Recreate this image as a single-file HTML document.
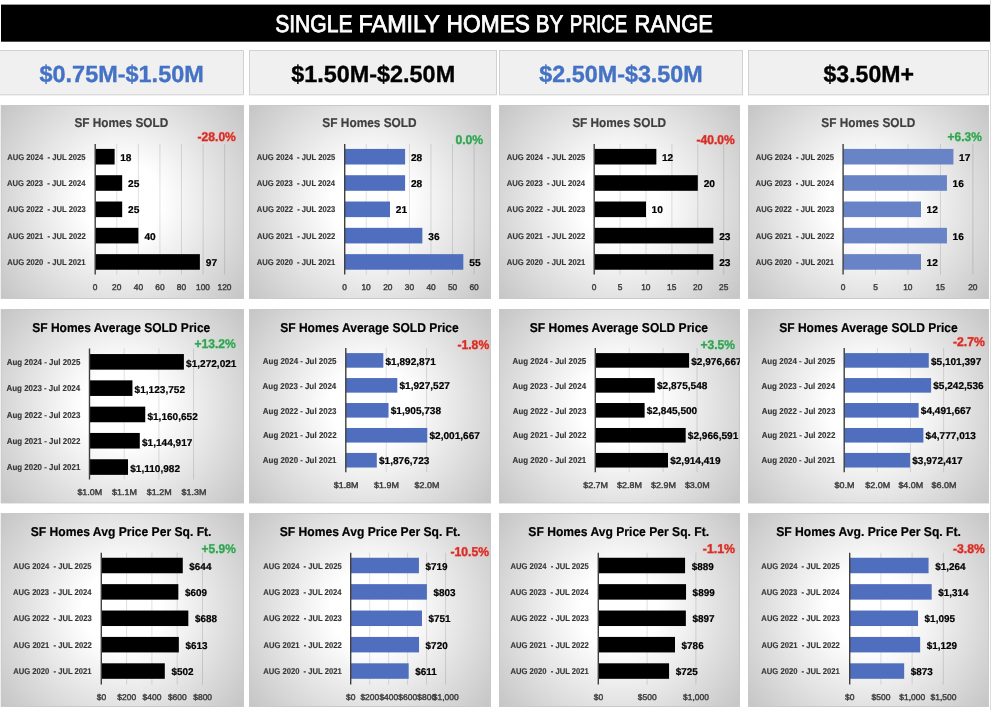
<!DOCTYPE html>
<html><head><meta charset="utf-8"><style>
html,body{margin:0;padding:0;background:#fff;width:991px;height:710px;overflow:hidden}
svg{display:block;will-change:transform}
text{font-family:"Liberation Sans", sans-serif;white-space:pre;text-rendering:geometricPrecision}
</style></head><body>
<svg width="991" height="710" viewBox="0 0 991 710">
<defs>
<radialGradient id="pg0" gradientUnits="userSpaceOnUse" cx="122.3" cy="202.0" r="160.0"><stop offset="0" stop-color="#ffffff"/><stop offset="0.244" stop-color="#ffffff"/><stop offset="1" stop-color="rgb(194,194,194)"/></radialGradient>
<clipPath id="cp0"><rect x="0.6" y="105" width="243.4" height="194"/></clipPath>
<radialGradient id="pg1" gradientUnits="userSpaceOnUse" cx="370.0" cy="202.0" r="160.0"><stop offset="0" stop-color="#ffffff"/><stop offset="0.244" stop-color="#ffffff"/><stop offset="1" stop-color="rgb(194,194,194)"/></radialGradient>
<clipPath id="cp1"><rect x="249" y="105" width="242" height="194"/></clipPath>
<radialGradient id="pg2" gradientUnits="userSpaceOnUse" cx="619.5" cy="202.0" r="160.0"><stop offset="0" stop-color="#ffffff"/><stop offset="0.244" stop-color="#ffffff"/><stop offset="1" stop-color="rgb(194,194,194)"/></radialGradient>
<clipPath id="cp2"><rect x="499" y="105" width="241" height="194"/></clipPath>
<radialGradient id="pg3" gradientUnits="userSpaceOnUse" cx="868.5" cy="202.0" r="160.0"><stop offset="0" stop-color="#ffffff"/><stop offset="0.244" stop-color="#ffffff"/><stop offset="1" stop-color="rgb(194,194,194)"/></radialGradient>
<clipPath id="cp3"><rect x="748" y="105" width="241" height="194"/></clipPath>
<radialGradient id="pg4" gradientUnits="userSpaceOnUse" cx="122.3" cy="406.2" r="160.0"><stop offset="0" stop-color="#ffffff"/><stop offset="0.244" stop-color="#ffffff"/><stop offset="1" stop-color="rgb(194,194,194)"/></radialGradient>
<clipPath id="cp4"><rect x="0.6" y="309" width="243.4" height="194.5"/></clipPath>
<radialGradient id="pg5" gradientUnits="userSpaceOnUse" cx="370.0" cy="406.2" r="160.0"><stop offset="0" stop-color="#ffffff"/><stop offset="0.244" stop-color="#ffffff"/><stop offset="1" stop-color="rgb(194,194,194)"/></radialGradient>
<clipPath id="cp5"><rect x="249" y="309" width="242" height="194.5"/></clipPath>
<radialGradient id="pg6" gradientUnits="userSpaceOnUse" cx="619.5" cy="406.2" r="160.0"><stop offset="0" stop-color="#ffffff"/><stop offset="0.244" stop-color="#ffffff"/><stop offset="1" stop-color="rgb(194,194,194)"/></radialGradient>
<clipPath id="cp6"><rect x="499" y="309" width="241" height="194.5"/></clipPath>
<radialGradient id="pg7" gradientUnits="userSpaceOnUse" cx="868.5" cy="406.2" r="160.0"><stop offset="0" stop-color="#ffffff"/><stop offset="0.244" stop-color="#ffffff"/><stop offset="1" stop-color="rgb(194,194,194)"/></radialGradient>
<clipPath id="cp7"><rect x="748" y="309" width="241" height="194.5"/></clipPath>
<radialGradient id="pg8" gradientUnits="userSpaceOnUse" cx="122.3" cy="610.0" r="160.0"><stop offset="0" stop-color="#ffffff"/><stop offset="0.244" stop-color="#ffffff"/><stop offset="1" stop-color="rgb(194,194,194)"/></radialGradient>
<clipPath id="cp8"><rect x="0.6" y="513" width="243.4" height="194"/></clipPath>
<radialGradient id="pg9" gradientUnits="userSpaceOnUse" cx="370.0" cy="610.0" r="160.0"><stop offset="0" stop-color="#ffffff"/><stop offset="0.244" stop-color="#ffffff"/><stop offset="1" stop-color="rgb(194,194,194)"/></radialGradient>
<clipPath id="cp9"><rect x="249" y="513" width="242" height="194"/></clipPath>
<radialGradient id="pg10" gradientUnits="userSpaceOnUse" cx="619.5" cy="610.0" r="160.0"><stop offset="0" stop-color="#ffffff"/><stop offset="0.244" stop-color="#ffffff"/><stop offset="1" stop-color="rgb(194,194,194)"/></radialGradient>
<clipPath id="cp10"><rect x="499" y="513" width="241" height="194"/></clipPath>
<radialGradient id="pg11" gradientUnits="userSpaceOnUse" cx="868.5" cy="610.0" r="160.0"><stop offset="0" stop-color="#ffffff"/><stop offset="0.244" stop-color="#ffffff"/><stop offset="1" stop-color="rgb(194,194,194)"/></radialGradient>
<clipPath id="cp11"><rect x="748" y="513" width="241" height="194"/></clipPath>
</defs>
<rect x="1.00" y="4.60" width="989.00" height="37.10" fill="#000"/>
<text transform="translate(275.15,31.60) scale(0.8690,1)" font-size="24.30" font-weight="normal" fill="#fff" stroke="#fff" stroke-width="0.8">SINGLE</text>
<text transform="translate(358.57,31.60) scale(0.9613,1)" font-size="24.30" font-weight="normal" fill="#fff" stroke="#fff" stroke-width="0.8">FAMILY</text>
<text transform="translate(446.62,31.60) scale(0.9358,1)" font-size="24.30" font-weight="normal" fill="#fff" stroke="#fff" stroke-width="0.8">HOMES</text>
<text transform="translate(535.80,31.60) scale(0.8498,1)" font-size="24.30" font-weight="normal" fill="#fff" stroke="#fff" stroke-width="0.8">BY</text>
<text transform="translate(569.85,31.60) scale(0.7732,1)" font-size="24.30" font-weight="normal" fill="#fff" stroke="#fff" stroke-width="0.8">PRICE</text>
<text transform="translate(634.58,31.60) scale(0.9076,1)" font-size="24.30" font-weight="normal" fill="#fff" stroke="#fff" stroke-width="0.8">RANGE</text>
<rect x="0.00" y="50.50" width="243.50" height="44.30" fill="#f0f0f0"/>
<path d="M0 50.5H243.5V94.8H0" fill="none" stroke="#d2d0d1" stroke-width="1"/>
<text transform="translate(39.51,82.00) scale(1.0065,1)" font-size="23.30" font-weight="bold" fill="#4472c4" stroke="#4472c4" stroke-width="0.35">$0.75M-$1.50M</text>
<rect x="249.50" y="50.50" width="247.00" height="44.30" fill="#f0f0f0" stroke="#d2d0d1" stroke-width="1"/>
<text transform="translate(291.21,82.00) scale(1.0046,1)" font-size="23.30" font-weight="bold" fill="#000" stroke="#000" stroke-width="0.35">$1.50M-$2.50M</text>
<rect x="499.50" y="50.50" width="243.00" height="44.30" fill="#f0f0f0" stroke="#d2d0d1" stroke-width="1"/>
<text transform="translate(539.31,82.00) scale(1.0015,1)" font-size="23.30" font-weight="bold" fill="#4472c4" stroke="#4472c4" stroke-width="0.35">$2.50M-$3.50M</text>
<rect x="748.50" y="50.50" width="240.00" height="44.30" fill="#f0f0f0" stroke="#d2d0d1" stroke-width="1"/>
<text transform="translate(823.51,82.00) scale(0.9905,1)" font-size="23.30" font-weight="bold" fill="#000" stroke="#000" stroke-width="0.35">$3.50M+</text>
<g clip-path="url(#cp0)">
<rect x="0.60" y="105.00" width="243.40" height="194.00" fill="url(#pg0)"/>
<rect x="1.10" y="105.50" width="242.40" height="193.00" fill="none" stroke="#c9c9c9" stroke-width="1"/>
<line x1="116.78" y1="144.00" x2="116.78" y2="274.60" stroke="#000" stroke-width="1" stroke-opacity="0.12"/>
<line x1="138.37" y1="144.00" x2="138.37" y2="274.60" stroke="#000" stroke-width="1" stroke-opacity="0.12"/>
<line x1="159.95" y1="144.00" x2="159.95" y2="274.60" stroke="#000" stroke-width="1" stroke-opacity="0.12"/>
<line x1="181.53" y1="144.00" x2="181.53" y2="274.60" stroke="#000" stroke-width="1" stroke-opacity="0.12"/>
<line x1="203.12" y1="144.00" x2="203.12" y2="274.60" stroke="#000" stroke-width="1" stroke-opacity="0.12"/>
<line x1="224.70" y1="144.00" x2="224.70" y2="274.60" stroke="#000" stroke-width="1" stroke-opacity="0.12"/>
<rect x="95.20" y="148.90" width="19.42" height="15.60" fill="#000"/>
<text transform="translate(120.19,160.80) scale(1.0300,1)" font-size="9.90" font-weight="bold" fill="#000" stroke="#000" stroke-width="0.2">18</text>
<text transform="translate(7.21,159.70) scale(0.9116,1)" font-size="8.40" font-weight="bold" fill="#383838" stroke="#383838" stroke-width="0.15">AUG 2024  - JUL 2025</text>
<rect x="95.20" y="175.21" width="26.98" height="15.60" fill="#000"/>
<text transform="translate(128.02,187.11) scale(1.0300,1)" font-size="9.90" font-weight="bold" fill="#000" stroke="#000" stroke-width="0.2">25</text>
<text transform="translate(7.04,186.01) scale(0.9116,1)" font-size="8.40" font-weight="bold" fill="#383838" stroke="#383838" stroke-width="0.15">AUG 2023  - JUL 2024</text>
<rect x="95.20" y="201.52" width="26.98" height="15.60" fill="#000"/>
<text transform="translate(128.02,213.42) scale(1.0300,1)" font-size="9.90" font-weight="bold" fill="#000" stroke="#000" stroke-width="0.2">25</text>
<text transform="translate(7.27,212.32) scale(0.9116,1)" font-size="8.40" font-weight="bold" fill="#383838" stroke="#383838" stroke-width="0.15">AUG 2022  - JUL 2023</text>
<rect x="95.20" y="227.83" width="43.17" height="15.60" fill="#000"/>
<text transform="translate(144.41,239.73) scale(1.0300,1)" font-size="9.90" font-weight="bold" fill="#000" stroke="#000" stroke-width="0.2">40</text>
<text transform="translate(7.29,238.63) scale(0.9116,1)" font-size="8.40" font-weight="bold" fill="#383838" stroke="#383838" stroke-width="0.15">AUG 2021  - JUL 2022</text>
<rect x="95.20" y="254.14" width="104.68" height="15.60" fill="#000"/>
<text transform="translate(205.72,266.04) scale(1.0300,1)" font-size="9.90" font-weight="bold" fill="#000" stroke="#000" stroke-width="0.2">97</text>
<text transform="translate(7.21,264.94) scale(0.9116,1)" font-size="8.40" font-weight="bold" fill="#383838" stroke="#383838" stroke-width="0.15">AUG 2020  - JUL 2021</text>
<line x1="95.20" y1="144.00" x2="95.20" y2="274.60" stroke="#404040" stroke-width="1.4"/>
<text transform="translate(92.87,290.00) scale(1.0072,1)" font-size="8.30" font-weight="normal" fill="#3a3a3a" stroke="#3a3a3a" stroke-width="0.4">0</text>
<text transform="translate(112.09,290.00) scale(1.0072,1)" font-size="8.30" font-weight="normal" fill="#3a3a3a" stroke="#3a3a3a" stroke-width="0.4">20</text>
<text transform="translate(133.79,290.00) scale(1.0072,1)" font-size="8.30" font-weight="normal" fill="#3a3a3a" stroke="#3a3a3a" stroke-width="0.4">40</text>
<text transform="translate(155.26,290.00) scale(1.0072,1)" font-size="8.30" font-weight="normal" fill="#3a3a3a" stroke="#3a3a3a" stroke-width="0.4">60</text>
<text transform="translate(176.87,290.00) scale(1.0072,1)" font-size="8.30" font-weight="normal" fill="#3a3a3a" stroke="#3a3a3a" stroke-width="0.4">80</text>
<text transform="translate(195.99,290.00) scale(1.0072,1)" font-size="8.30" font-weight="normal" fill="#3a3a3a" stroke="#3a3a3a" stroke-width="0.4">100</text>
<text transform="translate(217.57,290.00) scale(1.0072,1)" font-size="8.30" font-weight="normal" fill="#3a3a3a" stroke="#3a3a3a" stroke-width="0.4">120</text>
<text transform="translate(74.45,127.00) scale(0.9216,1)" font-size="12.80" font-weight="bold" fill="#404040" stroke="#404040" stroke-width="0.2">SF Homes SOLD</text>
<text transform="translate(197.52,141.00) scale(0.9543,1)" font-size="12.70" font-weight="bold" fill="#f7b9b2" stroke="#f7b9b2" stroke-width="1.6" stroke-linejoin="round" opacity="0.7">-28.0%</text>
<text transform="translate(197.52,141.00) scale(0.9543,1)" font-size="12.70" font-weight="bold" fill="#cf2f29" stroke="#cf2f29" stroke-width="0.3">-28.0%</text>
</g>
<g clip-path="url(#cp1)">
<rect x="249.00" y="105.00" width="242.00" height="194.00" fill="url(#pg1)"/>
<rect x="249.50" y="105.50" width="241.00" height="193.00" fill="none" stroke="#c9c9c9" stroke-width="1"/>
<line x1="366.27" y1="144.00" x2="366.27" y2="274.60" stroke="#000" stroke-width="1" stroke-opacity="0.12"/>
<line x1="387.84" y1="144.00" x2="387.84" y2="274.60" stroke="#000" stroke-width="1" stroke-opacity="0.12"/>
<line x1="409.41" y1="144.00" x2="409.41" y2="274.60" stroke="#000" stroke-width="1" stroke-opacity="0.12"/>
<line x1="430.98" y1="144.00" x2="430.98" y2="274.60" stroke="#000" stroke-width="1" stroke-opacity="0.12"/>
<line x1="452.55" y1="144.00" x2="452.55" y2="274.60" stroke="#000" stroke-width="1" stroke-opacity="0.12"/>
<line x1="474.12" y1="144.00" x2="474.12" y2="274.60" stroke="#000" stroke-width="1" stroke-opacity="0.12"/>
<rect x="344.70" y="148.90" width="60.40" height="15.60" fill="#4f6fbe"/>
<text transform="translate(410.94,160.80) scale(1.0300,1)" font-size="9.90" font-weight="bold" fill="#000" stroke="#000" stroke-width="0.2">28</text>
<text transform="translate(256.81,159.70) scale(0.9116,1)" font-size="8.40" font-weight="bold" fill="#383838" stroke="#383838" stroke-width="0.15">AUG 2024  - JUL 2025</text>
<rect x="344.70" y="175.21" width="60.40" height="15.60" fill="#4f6fbe"/>
<text transform="translate(410.94,187.11) scale(1.0300,1)" font-size="9.90" font-weight="bold" fill="#000" stroke="#000" stroke-width="0.2">28</text>
<text transform="translate(256.64,186.01) scale(0.9116,1)" font-size="8.40" font-weight="bold" fill="#383838" stroke="#383838" stroke-width="0.15">AUG 2023  - JUL 2024</text>
<rect x="344.70" y="201.52" width="45.30" height="15.60" fill="#4f6fbe"/>
<text transform="translate(395.84,213.42) scale(1.0300,1)" font-size="9.90" font-weight="bold" fill="#000" stroke="#000" stroke-width="0.2">21</text>
<text transform="translate(256.87,212.32) scale(0.9116,1)" font-size="8.40" font-weight="bold" fill="#383838" stroke="#383838" stroke-width="0.15">AUG 2022  - JUL 2023</text>
<rect x="344.70" y="227.83" width="77.65" height="15.60" fill="#4f6fbe"/>
<text transform="translate(428.32,239.73) scale(1.0300,1)" font-size="9.90" font-weight="bold" fill="#000" stroke="#000" stroke-width="0.2">36</text>
<text transform="translate(256.89,238.63) scale(0.9116,1)" font-size="8.40" font-weight="bold" fill="#383838" stroke="#383838" stroke-width="0.15">AUG 2021  - JUL 2022</text>
<rect x="344.70" y="254.14" width="118.64" height="15.60" fill="#4f6fbe"/>
<text transform="translate(469.23,266.04) scale(1.0300,1)" font-size="9.90" font-weight="bold" fill="#000" stroke="#000" stroke-width="0.2">55</text>
<text transform="translate(256.81,264.94) scale(0.9116,1)" font-size="8.40" font-weight="bold" fill="#383838" stroke="#383838" stroke-width="0.15">AUG 2020  - JUL 2021</text>
<line x1="344.70" y1="144.00" x2="344.70" y2="274.60" stroke="#404040" stroke-width="1.4"/>
<text transform="translate(342.37,290.00) scale(1.0072,1)" font-size="8.30" font-weight="normal" fill="#3a3a3a" stroke="#3a3a3a" stroke-width="0.4">0</text>
<text transform="translate(361.47,290.00) scale(1.0072,1)" font-size="8.30" font-weight="normal" fill="#3a3a3a" stroke="#3a3a3a" stroke-width="0.4">10</text>
<text transform="translate(383.15,290.00) scale(1.0072,1)" font-size="8.30" font-weight="normal" fill="#3a3a3a" stroke="#3a3a3a" stroke-width="0.4">20</text>
<text transform="translate(404.77,290.00) scale(1.0072,1)" font-size="8.30" font-weight="normal" fill="#3a3a3a" stroke="#3a3a3a" stroke-width="0.4">30</text>
<text transform="translate(426.40,290.00) scale(1.0072,1)" font-size="8.30" font-weight="normal" fill="#3a3a3a" stroke="#3a3a3a" stroke-width="0.4">40</text>
<text transform="translate(447.90,290.00) scale(1.0072,1)" font-size="8.30" font-weight="normal" fill="#3a3a3a" stroke="#3a3a3a" stroke-width="0.4">50</text>
<text transform="translate(469.43,290.00) scale(1.0072,1)" font-size="8.30" font-weight="normal" fill="#3a3a3a" stroke="#3a3a3a" stroke-width="0.4">60</text>
<text transform="translate(322.34,127.00) scale(0.9276,1)" font-size="12.80" font-weight="bold" fill="#404040" stroke="#404040" stroke-width="0.2">SF Homes SOLD</text>
<text transform="translate(455.41,143.80) scale(0.9609,1)" font-size="12.70" font-weight="bold" fill="#b5e6c0" stroke="#b5e6c0" stroke-width="1.6" stroke-linejoin="round" opacity="0.7">0.0%</text>
<text transform="translate(455.41,143.80) scale(0.9609,1)" font-size="12.70" font-weight="bold" fill="#3a9f57" stroke="#3a9f57" stroke-width="0.3">0.0%</text>
</g>
<g clip-path="url(#cp2)">
<rect x="499.00" y="105.00" width="241.00" height="194.00" fill="url(#pg2)"/>
<rect x="499.50" y="105.50" width="240.00" height="193.00" fill="none" stroke="#c9c9c9" stroke-width="1"/>
<line x1="620.10" y1="144.00" x2="620.10" y2="274.60" stroke="#000" stroke-width="1" stroke-opacity="0.12"/>
<line x1="646.00" y1="144.00" x2="646.00" y2="274.60" stroke="#000" stroke-width="1" stroke-opacity="0.12"/>
<line x1="671.90" y1="144.00" x2="671.90" y2="274.60" stroke="#000" stroke-width="1" stroke-opacity="0.12"/>
<line x1="697.80" y1="144.00" x2="697.80" y2="274.60" stroke="#000" stroke-width="1" stroke-opacity="0.12"/>
<line x1="723.70" y1="144.00" x2="723.70" y2="274.60" stroke="#000" stroke-width="1" stroke-opacity="0.12"/>
<rect x="594.20" y="148.90" width="62.16" height="15.60" fill="#000"/>
<text transform="translate(661.92,160.80) scale(1.0300,1)" font-size="9.90" font-weight="bold" fill="#000" stroke="#000" stroke-width="0.2">12</text>
<text transform="translate(506.81,159.70) scale(0.9116,1)" font-size="8.40" font-weight="bold" fill="#383838" stroke="#383838" stroke-width="0.15">AUG 2024  - JUL 2025</text>
<rect x="594.20" y="175.21" width="103.60" height="15.60" fill="#000"/>
<text transform="translate(703.64,187.11) scale(1.0300,1)" font-size="9.90" font-weight="bold" fill="#000" stroke="#000" stroke-width="0.2">20</text>
<text transform="translate(506.64,186.01) scale(0.9116,1)" font-size="8.40" font-weight="bold" fill="#383838" stroke="#383838" stroke-width="0.15">AUG 2023  - JUL 2024</text>
<rect x="594.20" y="201.52" width="51.80" height="15.60" fill="#000"/>
<text transform="translate(651.56,213.42) scale(1.0300,1)" font-size="9.90" font-weight="bold" fill="#000" stroke="#000" stroke-width="0.2">10</text>
<text transform="translate(506.87,212.32) scale(0.9116,1)" font-size="8.40" font-weight="bold" fill="#383838" stroke="#383838" stroke-width="0.15">AUG 2022  - JUL 2023</text>
<rect x="594.20" y="227.83" width="119.14" height="15.60" fill="#000"/>
<text transform="translate(719.18,239.73) scale(1.0300,1)" font-size="9.90" font-weight="bold" fill="#000" stroke="#000" stroke-width="0.2">23</text>
<text transform="translate(506.89,238.63) scale(0.9116,1)" font-size="8.40" font-weight="bold" fill="#383838" stroke="#383838" stroke-width="0.15">AUG 2021  - JUL 2022</text>
<rect x="594.20" y="254.14" width="119.14" height="15.60" fill="#000"/>
<text transform="translate(719.18,266.04) scale(1.0300,1)" font-size="9.90" font-weight="bold" fill="#000" stroke="#000" stroke-width="0.2">23</text>
<text transform="translate(506.81,264.94) scale(0.9116,1)" font-size="8.40" font-weight="bold" fill="#383838" stroke="#383838" stroke-width="0.15">AUG 2020  - JUL 2021</text>
<line x1="594.20" y1="144.00" x2="594.20" y2="274.60" stroke="#404040" stroke-width="1.4"/>
<text transform="translate(591.87,290.00) scale(1.0072,1)" font-size="8.30" font-weight="normal" fill="#3a3a3a" stroke="#3a3a3a" stroke-width="0.4">0</text>
<text transform="translate(617.78,290.00) scale(1.0072,1)" font-size="8.30" font-weight="normal" fill="#3a3a3a" stroke="#3a3a3a" stroke-width="0.4">5</text>
<text transform="translate(641.20,290.00) scale(1.0072,1)" font-size="8.30" font-weight="normal" fill="#3a3a3a" stroke="#3a3a3a" stroke-width="0.4">10</text>
<text transform="translate(667.11,290.00) scale(1.0072,1)" font-size="8.30" font-weight="normal" fill="#3a3a3a" stroke="#3a3a3a" stroke-width="0.4">15</text>
<text transform="translate(693.11,290.00) scale(1.0072,1)" font-size="8.30" font-weight="normal" fill="#3a3a3a" stroke="#3a3a3a" stroke-width="0.4">20</text>
<text transform="translate(719.02,290.00) scale(1.0072,1)" font-size="8.30" font-weight="normal" fill="#3a3a3a" stroke="#3a3a3a" stroke-width="0.4">25</text>
<text transform="translate(572.14,127.00) scale(0.9246,1)" font-size="12.80" font-weight="bold" fill="#404040" stroke="#404040" stroke-width="0.2">SF Homes SOLD</text>
<text transform="translate(696.52,143.50) scale(0.9517,1)" font-size="12.70" font-weight="bold" fill="#f7b9b2" stroke="#f7b9b2" stroke-width="1.6" stroke-linejoin="round" opacity="0.7">-40.0%</text>
<text transform="translate(696.52,143.50) scale(0.9517,1)" font-size="12.70" font-weight="bold" fill="#cf2f29" stroke="#cf2f29" stroke-width="0.3">-40.0%</text>
</g>
<g clip-path="url(#cp3)">
<rect x="748.00" y="105.00" width="241.00" height="194.00" fill="url(#pg3)"/>
<rect x="748.50" y="105.50" width="240.00" height="193.00" fill="none" stroke="#c9c9c9" stroke-width="1"/>
<line x1="875.55" y1="144.00" x2="875.55" y2="274.60" stroke="#000" stroke-width="1" stroke-opacity="0.12"/>
<line x1="908.00" y1="144.00" x2="908.00" y2="274.60" stroke="#000" stroke-width="1" stroke-opacity="0.12"/>
<line x1="940.45" y1="144.00" x2="940.45" y2="274.60" stroke="#000" stroke-width="1" stroke-opacity="0.12"/>
<line x1="972.90" y1="144.00" x2="972.90" y2="274.60" stroke="#000" stroke-width="1" stroke-opacity="0.12"/>
<rect x="843.10" y="148.90" width="110.33" height="15.60" fill="#6884c6"/>
<text transform="translate(958.99,160.80) scale(1.0300,1)" font-size="9.90" font-weight="bold" fill="#000" stroke="#000" stroke-width="0.2">17</text>
<text transform="translate(755.71,159.70) scale(0.9116,1)" font-size="8.40" font-weight="bold" fill="#383838" stroke="#383838" stroke-width="0.15">AUG 2024  - JUL 2025</text>
<rect x="843.10" y="175.21" width="103.84" height="15.60" fill="#6884c6"/>
<text transform="translate(952.50,187.11) scale(1.0300,1)" font-size="9.90" font-weight="bold" fill="#000" stroke="#000" stroke-width="0.2">16</text>
<text transform="translate(755.54,186.01) scale(0.9116,1)" font-size="8.40" font-weight="bold" fill="#383838" stroke="#383838" stroke-width="0.15">AUG 2023  - JUL 2024</text>
<rect x="843.10" y="201.52" width="77.88" height="15.60" fill="#6884c6"/>
<text transform="translate(926.54,213.42) scale(1.0300,1)" font-size="9.90" font-weight="bold" fill="#000" stroke="#000" stroke-width="0.2">12</text>
<text transform="translate(755.77,212.32) scale(0.9116,1)" font-size="8.40" font-weight="bold" fill="#383838" stroke="#383838" stroke-width="0.15">AUG 2022  - JUL 2023</text>
<rect x="843.10" y="227.83" width="103.84" height="15.60" fill="#6884c6"/>
<text transform="translate(952.50,239.73) scale(1.0300,1)" font-size="9.90" font-weight="bold" fill="#000" stroke="#000" stroke-width="0.2">16</text>
<text transform="translate(755.79,238.63) scale(0.9116,1)" font-size="8.40" font-weight="bold" fill="#383838" stroke="#383838" stroke-width="0.15">AUG 2021  - JUL 2022</text>
<rect x="843.10" y="254.14" width="77.88" height="15.60" fill="#6884c6"/>
<text transform="translate(926.54,266.04) scale(1.0300,1)" font-size="9.90" font-weight="bold" fill="#000" stroke="#000" stroke-width="0.2">12</text>
<text transform="translate(755.71,264.94) scale(0.9116,1)" font-size="8.40" font-weight="bold" fill="#383838" stroke="#383838" stroke-width="0.15">AUG 2020  - JUL 2021</text>
<line x1="843.10" y1="144.00" x2="843.10" y2="274.60" stroke="#404040" stroke-width="1.4"/>
<text transform="translate(840.77,290.00) scale(1.0072,1)" font-size="8.30" font-weight="normal" fill="#3a3a3a" stroke="#3a3a3a" stroke-width="0.4">0</text>
<text transform="translate(873.23,290.00) scale(1.0072,1)" font-size="8.30" font-weight="normal" fill="#3a3a3a" stroke="#3a3a3a" stroke-width="0.4">5</text>
<text transform="translate(903.20,290.00) scale(1.0072,1)" font-size="8.30" font-weight="normal" fill="#3a3a3a" stroke="#3a3a3a" stroke-width="0.4">10</text>
<text transform="translate(935.66,290.00) scale(1.0072,1)" font-size="8.30" font-weight="normal" fill="#3a3a3a" stroke="#3a3a3a" stroke-width="0.4">15</text>
<text transform="translate(968.21,290.00) scale(1.0072,1)" font-size="8.30" font-weight="normal" fill="#3a3a3a" stroke="#3a3a3a" stroke-width="0.4">20</text>
<text transform="translate(821.35,127.00) scale(0.9236,1)" font-size="12.80" font-weight="bold" fill="#404040" stroke="#404040" stroke-width="0.2">SF Homes SOLD</text>
<text transform="translate(947.49,140.80) scale(0.9438,1)" font-size="12.70" font-weight="bold" fill="#b5e6c0" stroke="#b5e6c0" stroke-width="1.6" stroke-linejoin="round" opacity="0.7">+6.3%</text>
<text transform="translate(947.49,140.80) scale(0.9438,1)" font-size="12.70" font-weight="bold" fill="#3a9f57" stroke="#3a9f57" stroke-width="0.3">+6.3%</text>
</g>
<g clip-path="url(#cp4)">
<rect x="0.60" y="309.00" width="243.40" height="194.50" fill="url(#pg4)"/>
<rect x="1.10" y="309.50" width="242.40" height="193.50" fill="none" stroke="#c9c9c9" stroke-width="1"/>
<line x1="124.20" y1="348.40" x2="124.20" y2="479.50" stroke="#000" stroke-width="1" stroke-opacity="0.12"/>
<line x1="158.90" y1="348.40" x2="158.90" y2="479.50" stroke="#000" stroke-width="1" stroke-opacity="0.12"/>
<line x1="193.60" y1="348.40" x2="193.60" y2="479.50" stroke="#000" stroke-width="1" stroke-opacity="0.12"/>
<rect x="89.50" y="354.05" width="94.39" height="15.60" fill="#000"/>
<text transform="translate(186.07,366.95) scale(1.0193,1)" font-size="9.90" font-weight="bold" fill="#000" stroke="#000" stroke-width="0.2">$1,272,021</text>
<text transform="translate(6.70,365.05) scale(0.9234,1)" font-size="8.60" font-weight="bold" fill="#383838" stroke="#383838" stroke-width="0.15">Aug 2024 - Jul 2025</text>
<rect x="89.50" y="380.35" width="42.94" height="15.60" fill="#000"/>
<text transform="translate(134.62,393.25) scale(1.0193,1)" font-size="9.90" font-weight="bold" fill="#000" stroke="#000" stroke-width="0.2">$1,123,752</text>
<text transform="translate(6.52,391.35) scale(0.9234,1)" font-size="8.60" font-weight="bold" fill="#383838" stroke="#383838" stroke-width="0.15">Aug 2023 - Jul 2024</text>
<rect x="89.50" y="406.65" width="55.75" height="15.60" fill="#000"/>
<text transform="translate(147.42,419.55) scale(1.0193,1)" font-size="9.90" font-weight="bold" fill="#000" stroke="#000" stroke-width="0.2">$1,160,652</text>
<text transform="translate(6.76,417.65) scale(0.9234,1)" font-size="8.60" font-weight="bold" fill="#383838" stroke="#383838" stroke-width="0.15">Aug 2022 - Jul 2023</text>
<rect x="89.50" y="432.95" width="50.29" height="15.60" fill="#000"/>
<text transform="translate(141.96,445.85) scale(1.0193,1)" font-size="9.90" font-weight="bold" fill="#000" stroke="#000" stroke-width="0.2">$1,144,917</text>
<text transform="translate(6.78,443.95) scale(0.9234,1)" font-size="8.60" font-weight="bold" fill="#383838" stroke="#383838" stroke-width="0.15">Aug 2021 - Jul 2022</text>
<rect x="89.50" y="459.25" width="38.51" height="15.60" fill="#000"/>
<text transform="translate(130.18,472.15) scale(1.0193,1)" font-size="9.90" font-weight="bold" fill="#000" stroke="#000" stroke-width="0.2">$1,110,982</text>
<text transform="translate(6.70,470.25) scale(0.9234,1)" font-size="8.60" font-weight="bold" fill="#383838" stroke="#383838" stroke-width="0.15">Aug 2020 - Jul 2021</text>
<line x1="89.50" y1="348.40" x2="89.50" y2="479.50" stroke="#404040" stroke-width="1.4"/>
<text transform="translate(77.41,494.80) scale(1.0759,1)" font-size="8.30" font-weight="normal" fill="#3a3a3a" stroke="#3a3a3a" stroke-width="0.4">$1.0M</text>
<text transform="translate(112.11,494.80) scale(1.0759,1)" font-size="8.30" font-weight="normal" fill="#3a3a3a" stroke="#3a3a3a" stroke-width="0.4">$1.1M</text>
<text transform="translate(146.81,494.80) scale(1.0759,1)" font-size="8.30" font-weight="normal" fill="#3a3a3a" stroke="#3a3a3a" stroke-width="0.4">$1.2M</text>
<text transform="translate(181.51,494.80) scale(1.0759,1)" font-size="8.30" font-weight="normal" fill="#3a3a3a" stroke="#3a3a3a" stroke-width="0.4">$1.3M</text>
<text transform="translate(32.24,331.70) scale(0.9386,1)" font-size="12.80" font-weight="bold" fill="#000" stroke="#000" stroke-width="0.2">SF Homes Average SOLD Price</text>
<text transform="translate(194.49,347.80) scale(0.9519,1)" font-size="12.70" font-weight="bold" fill="#b5e6c0" stroke="#b5e6c0" stroke-width="1.6" stroke-linejoin="round" opacity="0.7">+13.2%</text>
<text transform="translate(194.49,347.80) scale(0.9519,1)" font-size="12.70" font-weight="bold" fill="#3a9f57" stroke="#3a9f57" stroke-width="0.3">+13.2%</text>
</g>
<g clip-path="url(#cp5)">
<rect x="249.00" y="309.00" width="242.00" height="194.50" fill="url(#pg5)"/>
<rect x="249.50" y="309.50" width="241.00" height="193.50" fill="none" stroke="#c9c9c9" stroke-width="1"/>
<line x1="386.20" y1="347.90" x2="386.20" y2="472.20" stroke="#000" stroke-width="1" stroke-opacity="0.12"/>
<line x1="426.60" y1="347.90" x2="426.60" y2="472.20" stroke="#000" stroke-width="1" stroke-opacity="0.12"/>
<rect x="345.80" y="353.10" width="37.52" height="14.60" fill="#4f6fbe"/>
<text transform="translate(385.49,364.50) scale(1.0193,1)" font-size="9.90" font-weight="bold" fill="#000" stroke="#000" stroke-width="0.2">$1,892,871</text>
<text transform="translate(262.80,363.60) scale(0.9234,1)" font-size="8.60" font-weight="bold" fill="#383838" stroke="#383838" stroke-width="0.15">Aug 2024 - Jul 2025</text>
<rect x="345.80" y="378.06" width="51.52" height="14.60" fill="#4f6fbe"/>
<text transform="translate(399.49,389.46) scale(1.0193,1)" font-size="9.90" font-weight="bold" fill="#000" stroke="#000" stroke-width="0.2">$1,927,527</text>
<text transform="translate(262.62,388.56) scale(0.9234,1)" font-size="8.60" font-weight="bold" fill="#383838" stroke="#383838" stroke-width="0.15">Aug 2023 - Jul 2024</text>
<rect x="345.80" y="403.02" width="42.72" height="14.60" fill="#4f6fbe"/>
<text transform="translate(390.69,414.42) scale(1.0193,1)" font-size="9.90" font-weight="bold" fill="#000" stroke="#000" stroke-width="0.2">$1,905,738</text>
<text transform="translate(262.86,413.52) scale(0.9234,1)" font-size="8.60" font-weight="bold" fill="#383838" stroke="#383838" stroke-width="0.15">Aug 2022 - Jul 2023</text>
<rect x="345.80" y="427.98" width="81.47" height="14.60" fill="#4f6fbe"/>
<text transform="translate(429.45,439.38) scale(1.0193,1)" font-size="9.90" font-weight="bold" fill="#000" stroke="#000" stroke-width="0.2">$2,001,667</text>
<text transform="translate(262.88,438.48) scale(0.9234,1)" font-size="8.60" font-weight="bold" fill="#383838" stroke="#383838" stroke-width="0.15">Aug 2021 - Jul 2022</text>
<rect x="345.80" y="452.94" width="31.00" height="14.60" fill="#4f6fbe"/>
<text transform="translate(378.97,464.34) scale(1.0193,1)" font-size="9.90" font-weight="bold" fill="#000" stroke="#000" stroke-width="0.2">$1,876,723</text>
<text transform="translate(262.80,463.44) scale(0.9234,1)" font-size="8.60" font-weight="bold" fill="#383838" stroke="#383838" stroke-width="0.15">Aug 2020 - Jul 2021</text>
<line x1="345.80" y1="347.90" x2="345.80" y2="472.20" stroke="#404040" stroke-width="1.4"/>
<text transform="translate(333.71,487.90) scale(1.0759,1)" font-size="8.30" font-weight="normal" fill="#3a3a3a" stroke="#3a3a3a" stroke-width="0.4">$1.8M</text>
<text transform="translate(374.11,487.90) scale(1.0759,1)" font-size="8.30" font-weight="normal" fill="#3a3a3a" stroke="#3a3a3a" stroke-width="0.4">$1.9M</text>
<text transform="translate(414.51,487.90) scale(1.0759,1)" font-size="8.30" font-weight="normal" fill="#3a3a3a" stroke="#3a3a3a" stroke-width="0.4">$2.0M</text>
<text transform="translate(280.14,331.70) scale(0.9413,1)" font-size="12.80" font-weight="bold" fill="#000" stroke="#000" stroke-width="0.2">SF Homes Average SOLD Price</text>
<text transform="translate(457.41,348.90) scale(0.9591,1)" font-size="12.70" font-weight="bold" fill="#f7b9b2" stroke="#f7b9b2" stroke-width="1.6" stroke-linejoin="round" opacity="0.7">-1.8%</text>
<text transform="translate(457.41,348.90) scale(0.9591,1)" font-size="12.70" font-weight="bold" fill="#cf2f29" stroke="#cf2f29" stroke-width="0.3">-1.8%</text>
</g>
<g clip-path="url(#cp6)">
<rect x="499.00" y="309.00" width="241.00" height="194.50" fill="url(#pg6)"/>
<rect x="499.50" y="309.50" width="240.00" height="193.50" fill="none" stroke="#c9c9c9" stroke-width="1"/>
<line x1="629.20" y1="347.90" x2="629.20" y2="472.20" stroke="#000" stroke-width="1" stroke-opacity="0.12"/>
<line x1="663.10" y1="347.90" x2="663.10" y2="472.20" stroke="#000" stroke-width="1" stroke-opacity="0.12"/>
<line x1="697.00" y1="347.90" x2="697.00" y2="472.20" stroke="#000" stroke-width="1" stroke-opacity="0.12"/>
<rect x="595.30" y="353.10" width="93.79" height="14.60" fill="#000"/>
<text transform="translate(691.26,364.50) scale(1.0193,1)" font-size="9.90" font-weight="bold" fill="#000" stroke="#000" stroke-width="0.2">$2,976,667</text>
<text transform="translate(512.60,363.60) scale(0.9234,1)" font-size="8.60" font-weight="bold" fill="#383838" stroke="#383838" stroke-width="0.15">Aug 2024 - Jul 2025</text>
<rect x="595.30" y="378.06" width="59.51" height="14.60" fill="#000"/>
<text transform="translate(656.98,389.46) scale(1.0193,1)" font-size="9.90" font-weight="bold" fill="#000" stroke="#000" stroke-width="0.2">$2,875,548</text>
<text transform="translate(512.42,388.56) scale(0.9234,1)" font-size="8.60" font-weight="bold" fill="#383838" stroke="#383838" stroke-width="0.15">Aug 2023 - Jul 2024</text>
<rect x="595.30" y="403.02" width="49.32" height="14.60" fill="#000"/>
<text transform="translate(646.80,414.42) scale(1.0193,1)" font-size="9.90" font-weight="bold" fill="#000" stroke="#000" stroke-width="0.2">$2,845,500</text>
<text transform="translate(512.66,413.52) scale(0.9234,1)" font-size="8.60" font-weight="bold" fill="#383838" stroke="#383838" stroke-width="0.15">Aug 2022 - Jul 2023</text>
<rect x="595.30" y="427.98" width="90.37" height="14.60" fill="#000"/>
<text transform="translate(687.85,439.38) scale(1.0193,1)" font-size="9.90" font-weight="bold" fill="#000" stroke="#000" stroke-width="0.2">$2,966,591</text>
<text transform="translate(512.68,438.48) scale(0.9234,1)" font-size="8.60" font-weight="bold" fill="#383838" stroke="#383838" stroke-width="0.15">Aug 2021 - Jul 2022</text>
<rect x="595.30" y="452.94" width="72.69" height="14.60" fill="#000"/>
<text transform="translate(670.16,464.34) scale(1.0193,1)" font-size="9.90" font-weight="bold" fill="#000" stroke="#000" stroke-width="0.2">$2,914,419</text>
<text transform="translate(512.60,463.44) scale(0.9234,1)" font-size="8.60" font-weight="bold" fill="#383838" stroke="#383838" stroke-width="0.15">Aug 2020 - Jul 2021</text>
<line x1="595.30" y1="347.90" x2="595.30" y2="472.20" stroke="#404040" stroke-width="1.4"/>
<text transform="translate(583.21,487.90) scale(1.0759,1)" font-size="8.30" font-weight="normal" fill="#3a3a3a" stroke="#3a3a3a" stroke-width="0.4">$2.7M</text>
<text transform="translate(617.11,487.90) scale(1.0759,1)" font-size="8.30" font-weight="normal" fill="#3a3a3a" stroke="#3a3a3a" stroke-width="0.4">$2.8M</text>
<text transform="translate(651.01,487.90) scale(1.0759,1)" font-size="8.30" font-weight="normal" fill="#3a3a3a" stroke="#3a3a3a" stroke-width="0.4">$2.9M</text>
<text transform="translate(684.91,487.90) scale(1.0759,1)" font-size="8.30" font-weight="normal" fill="#3a3a3a" stroke="#3a3a3a" stroke-width="0.4">$3.0M</text>
<text transform="translate(529.74,331.70) scale(0.9402,1)" font-size="12.80" font-weight="bold" fill="#000" stroke="#000" stroke-width="0.2">SF Homes Average SOLD Price</text>
<text transform="translate(700.38,349.00) scale(0.9550,1)" font-size="12.70" font-weight="bold" fill="#b5e6c0" stroke="#b5e6c0" stroke-width="1.6" stroke-linejoin="round" opacity="0.7">+3.5%</text>
<text transform="translate(700.38,349.00) scale(0.9550,1)" font-size="12.70" font-weight="bold" fill="#3a9f57" stroke="#3a9f57" stroke-width="0.3">+3.5%</text>
</g>
<g clip-path="url(#cp7)">
<rect x="748.00" y="309.00" width="241.00" height="194.50" fill="url(#pg7)"/>
<rect x="748.50" y="309.50" width="240.00" height="193.50" fill="none" stroke="#c9c9c9" stroke-width="1"/>
<line x1="877.35" y1="347.90" x2="877.35" y2="472.20" stroke="#000" stroke-width="1" stroke-opacity="0.12"/>
<line x1="910.50" y1="347.90" x2="910.50" y2="472.20" stroke="#000" stroke-width="1" stroke-opacity="0.12"/>
<line x1="943.65" y1="347.90" x2="943.65" y2="472.20" stroke="#000" stroke-width="1" stroke-opacity="0.12"/>
<rect x="844.20" y="353.10" width="84.56" height="14.60" fill="#4f6fbe"/>
<text transform="translate(930.93,364.50) scale(1.0193,1)" font-size="9.90" font-weight="bold" fill="#000" stroke="#000" stroke-width="0.2">$5,101,397</text>
<text transform="translate(761.60,363.60) scale(0.9234,1)" font-size="8.60" font-weight="bold" fill="#383838" stroke="#383838" stroke-width="0.15">Aug 2024 - Jul 2025</text>
<rect x="844.20" y="378.06" width="86.90" height="14.60" fill="#4f6fbe"/>
<text transform="translate(933.27,389.46) scale(1.0193,1)" font-size="9.90" font-weight="bold" fill="#000" stroke="#000" stroke-width="0.2">$5,242,536</text>
<text transform="translate(761.42,388.56) scale(0.9234,1)" font-size="8.60" font-weight="bold" fill="#383838" stroke="#383838" stroke-width="0.15">Aug 2023 - Jul 2024</text>
<rect x="844.20" y="403.02" width="74.45" height="14.60" fill="#4f6fbe"/>
<text transform="translate(920.82,414.42) scale(1.0193,1)" font-size="9.90" font-weight="bold" fill="#000" stroke="#000" stroke-width="0.2">$4,491,667</text>
<text transform="translate(761.66,413.52) scale(0.9234,1)" font-size="8.60" font-weight="bold" fill="#383838" stroke="#383838" stroke-width="0.15">Aug 2022 - Jul 2023</text>
<rect x="844.20" y="427.98" width="79.18" height="14.60" fill="#4f6fbe"/>
<text transform="translate(925.55,439.38) scale(1.0193,1)" font-size="9.90" font-weight="bold" fill="#000" stroke="#000" stroke-width="0.2">$4,777,013</text>
<text transform="translate(761.68,438.48) scale(0.9234,1)" font-size="8.60" font-weight="bold" fill="#383838" stroke="#383838" stroke-width="0.15">Aug 2021 - Jul 2022</text>
<rect x="844.20" y="452.94" width="65.84" height="14.60" fill="#4f6fbe"/>
<text transform="translate(912.22,464.34) scale(1.0193,1)" font-size="9.90" font-weight="bold" fill="#000" stroke="#000" stroke-width="0.2">$3,972,417</text>
<text transform="translate(761.60,463.44) scale(0.9234,1)" font-size="8.60" font-weight="bold" fill="#383838" stroke="#383838" stroke-width="0.15">Aug 2020 - Jul 2021</text>
<line x1="844.20" y1="347.90" x2="844.20" y2="472.20" stroke="#404040" stroke-width="1.4"/>
<text transform="translate(834.60,487.90) scale(1.0759,1)" font-size="8.30" font-weight="normal" fill="#3a3a3a" stroke="#3a3a3a" stroke-width="0.4">$0.M</text>
<text transform="translate(865.26,487.90) scale(1.0759,1)" font-size="8.30" font-weight="normal" fill="#3a3a3a" stroke="#3a3a3a" stroke-width="0.4">$2.0M</text>
<text transform="translate(898.41,487.90) scale(1.0759,1)" font-size="8.30" font-weight="normal" fill="#3a3a3a" stroke="#3a3a3a" stroke-width="0.4">$4.0M</text>
<text transform="translate(931.56,487.90) scale(1.0759,1)" font-size="8.30" font-weight="normal" fill="#3a3a3a" stroke="#3a3a3a" stroke-width="0.4">$6.0M</text>
<text transform="translate(779.14,331.70) scale(0.9413,1)" font-size="12.80" font-weight="bold" fill="#000" stroke="#000" stroke-width="0.2">SF Homes Average SOLD Price</text>
<text transform="translate(952.91,346.00) scale(0.9653,1)" font-size="12.70" font-weight="bold" fill="#f7b9b2" stroke="#f7b9b2" stroke-width="1.6" stroke-linejoin="round" opacity="0.7">-2.7%</text>
<text transform="translate(952.91,346.00) scale(0.9653,1)" font-size="12.70" font-weight="bold" fill="#cf2f29" stroke="#cf2f29" stroke-width="0.3">-2.7%</text>
</g>
<g clip-path="url(#cp8)">
<rect x="0.60" y="513.00" width="243.40" height="194.00" fill="url(#pg8)"/>
<rect x="1.10" y="513.50" width="242.40" height="193.00" fill="none" stroke="#c9c9c9" stroke-width="1"/>
<line x1="126.60" y1="552.70" x2="126.60" y2="684.60" stroke="#000" stroke-width="1" stroke-opacity="0.12"/>
<line x1="151.90" y1="552.70" x2="151.90" y2="684.60" stroke="#000" stroke-width="1" stroke-opacity="0.12"/>
<line x1="177.20" y1="552.70" x2="177.20" y2="684.60" stroke="#000" stroke-width="1" stroke-opacity="0.12"/>
<line x1="202.50" y1="552.70" x2="202.50" y2="684.60" stroke="#000" stroke-width="1" stroke-opacity="0.12"/>
<rect x="101.30" y="557.75" width="81.47" height="15.50" fill="#000"/>
<text transform="translate(189.34,569.70) scale(1.0043,1)" font-size="9.90" font-weight="bold" fill="#000" stroke="#000" stroke-width="0.2">$644</text>
<text transform="translate(13.21,568.70) scale(0.9116,1)" font-size="8.40" font-weight="bold" fill="#383838" stroke="#383838" stroke-width="0.15">AUG 2024  - JUL 2025</text>
<rect x="101.30" y="584.14" width="77.04" height="15.50" fill="#000"/>
<text transform="translate(184.91,596.09) scale(1.0043,1)" font-size="9.90" font-weight="bold" fill="#000" stroke="#000" stroke-width="0.2">$609</text>
<text transform="translate(13.04,595.09) scale(0.9116,1)" font-size="8.40" font-weight="bold" fill="#383838" stroke="#383838" stroke-width="0.15">AUG 2023  - JUL 2024</text>
<rect x="101.30" y="610.53" width="87.03" height="15.50" fill="#000"/>
<text transform="translate(194.91,622.48) scale(1.0043,1)" font-size="9.90" font-weight="bold" fill="#000" stroke="#000" stroke-width="0.2">$688</text>
<text transform="translate(13.27,621.48) scale(0.9116,1)" font-size="8.40" font-weight="bold" fill="#383838" stroke="#383838" stroke-width="0.15">AUG 2022  - JUL 2023</text>
<rect x="101.30" y="636.92" width="77.54" height="15.50" fill="#000"/>
<text transform="translate(185.42,648.87) scale(1.0043,1)" font-size="9.90" font-weight="bold" fill="#000" stroke="#000" stroke-width="0.2">$613</text>
<text transform="translate(13.29,647.87) scale(0.9116,1)" font-size="8.40" font-weight="bold" fill="#383838" stroke="#383838" stroke-width="0.15">AUG 2021  - JUL 2022</text>
<rect x="101.30" y="663.31" width="63.50" height="15.50" fill="#000"/>
<text transform="translate(171.38,675.26) scale(1.0043,1)" font-size="9.90" font-weight="bold" fill="#000" stroke="#000" stroke-width="0.2">$502</text>
<text transform="translate(13.21,674.26) scale(0.9116,1)" font-size="8.40" font-weight="bold" fill="#383838" stroke="#383838" stroke-width="0.15">AUG 2020  - JUL 2021</text>
<line x1="101.30" y1="552.70" x2="101.30" y2="684.60" stroke="#404040" stroke-width="1.4"/>
<text transform="translate(96.72,700.00) scale(1.0192,1)" font-size="8.30" font-weight="normal" fill="#3a3a3a" stroke="#3a3a3a" stroke-width="0.4">$0</text>
<text transform="translate(117.32,700.00) scale(1.0192,1)" font-size="8.30" font-weight="normal" fill="#3a3a3a" stroke="#3a3a3a" stroke-width="0.4">$200</text>
<text transform="translate(142.62,700.00) scale(1.0192,1)" font-size="8.30" font-weight="normal" fill="#3a3a3a" stroke="#3a3a3a" stroke-width="0.4">$400</text>
<text transform="translate(167.92,700.00) scale(1.0192,1)" font-size="8.30" font-weight="normal" fill="#3a3a3a" stroke="#3a3a3a" stroke-width="0.4">$600</text>
<text transform="translate(193.22,700.00) scale(1.0192,1)" font-size="8.30" font-weight="normal" fill="#3a3a3a" stroke="#3a3a3a" stroke-width="0.4">$800</text>
<text transform="translate(30.74,535.80) scale(0.9460,1)" font-size="12.80" font-weight="bold" fill="#000" stroke="#000" stroke-width="0.2">SF Homes Avg Price Per Sq. Ft.</text>
<text transform="translate(201.49,552.90) scale(0.9438,1)" font-size="12.70" font-weight="bold" fill="#b5e6c0" stroke="#b5e6c0" stroke-width="1.6" stroke-linejoin="round" opacity="0.7">+5.9%</text>
<text transform="translate(201.49,552.90) scale(0.9438,1)" font-size="12.70" font-weight="bold" fill="#3a9f57" stroke="#3a9f57" stroke-width="0.3">+5.9%</text>
</g>
<g clip-path="url(#cp9)">
<rect x="249.00" y="513.00" width="242.00" height="194.00" fill="url(#pg9)"/>
<rect x="249.50" y="513.50" width="241.00" height="193.00" fill="none" stroke="#c9c9c9" stroke-width="1"/>
<line x1="369.68" y1="552.70" x2="369.68" y2="684.60" stroke="#000" stroke-width="1" stroke-opacity="0.12"/>
<line x1="388.66" y1="552.70" x2="388.66" y2="684.60" stroke="#000" stroke-width="1" stroke-opacity="0.12"/>
<line x1="407.64" y1="552.70" x2="407.64" y2="684.60" stroke="#000" stroke-width="1" stroke-opacity="0.12"/>
<line x1="426.62" y1="552.70" x2="426.62" y2="684.60" stroke="#000" stroke-width="1" stroke-opacity="0.12"/>
<line x1="445.60" y1="552.70" x2="445.60" y2="684.60" stroke="#000" stroke-width="1" stroke-opacity="0.12"/>
<rect x="350.70" y="557.75" width="68.23" height="15.50" fill="#4f6fbe"/>
<text transform="translate(425.51,569.70) scale(1.0043,1)" font-size="9.90" font-weight="bold" fill="#000" stroke="#000" stroke-width="0.2">$719</text>
<text transform="translate(263.31,568.70) scale(0.9116,1)" font-size="8.40" font-weight="bold" fill="#383838" stroke="#383838" stroke-width="0.15">AUG 2024  - JUL 2025</text>
<rect x="350.70" y="584.14" width="76.20" height="15.50" fill="#4f6fbe"/>
<text transform="translate(433.48,596.09) scale(1.0043,1)" font-size="9.90" font-weight="bold" fill="#000" stroke="#000" stroke-width="0.2">$803</text>
<text transform="translate(263.14,595.09) scale(0.9116,1)" font-size="8.40" font-weight="bold" fill="#383838" stroke="#383838" stroke-width="0.15">AUG 2023  - JUL 2024</text>
<rect x="350.70" y="610.53" width="71.27" height="15.50" fill="#4f6fbe"/>
<text transform="translate(428.55,622.48) scale(1.0043,1)" font-size="9.90" font-weight="bold" fill="#000" stroke="#000" stroke-width="0.2">$751</text>
<text transform="translate(263.37,621.48) scale(0.9116,1)" font-size="8.40" font-weight="bold" fill="#383838" stroke="#383838" stroke-width="0.15">AUG 2022  - JUL 2023</text>
<rect x="350.70" y="636.92" width="68.33" height="15.50" fill="#4f6fbe"/>
<text transform="translate(425.60,648.87) scale(1.0043,1)" font-size="9.90" font-weight="bold" fill="#000" stroke="#000" stroke-width="0.2">$720</text>
<text transform="translate(263.39,647.87) scale(0.9116,1)" font-size="8.40" font-weight="bold" fill="#383838" stroke="#383838" stroke-width="0.15">AUG 2021  - JUL 2022</text>
<rect x="350.70" y="663.31" width="57.98" height="15.50" fill="#4f6fbe"/>
<text transform="translate(415.26,675.26) scale(1.0043,1)" font-size="9.90" font-weight="bold" fill="#000" stroke="#000" stroke-width="0.2">$611</text>
<text transform="translate(263.31,674.26) scale(0.9116,1)" font-size="8.40" font-weight="bold" fill="#383838" stroke="#383838" stroke-width="0.15">AUG 2020  - JUL 2021</text>
<line x1="350.70" y1="552.70" x2="350.70" y2="684.60" stroke="#404040" stroke-width="1.4"/>
<text transform="translate(346.12,700.00) scale(1.0192,1)" font-size="8.30" font-weight="normal" fill="#3a3a3a" stroke="#3a3a3a" stroke-width="0.4">$0</text>
<text transform="translate(360.40,700.00) scale(1.0192,1)" font-size="8.30" font-weight="normal" fill="#3a3a3a" stroke="#3a3a3a" stroke-width="0.4">$200</text>
<text transform="translate(379.38,700.00) scale(1.0192,1)" font-size="8.30" font-weight="normal" fill="#3a3a3a" stroke="#3a3a3a" stroke-width="0.4">$400</text>
<text transform="translate(398.36,700.00) scale(1.0192,1)" font-size="8.30" font-weight="normal" fill="#3a3a3a" stroke="#3a3a3a" stroke-width="0.4">$600</text>
<text transform="translate(417.34,700.00) scale(1.0192,1)" font-size="8.30" font-weight="normal" fill="#3a3a3a" stroke="#3a3a3a" stroke-width="0.4">$800</text>
<text transform="translate(432.78,700.00) scale(1.0192,1)" font-size="8.30" font-weight="normal" fill="#3a3a3a" stroke="#3a3a3a" stroke-width="0.4">$1,000</text>
<text transform="translate(279.74,535.80) scale(0.9460,1)" font-size="12.80" font-weight="bold" fill="#000" stroke="#000" stroke-width="0.2">SF Homes Avg Price Per Sq. Ft.</text>
<text transform="translate(450.41,555.80) scale(0.9593,1)" font-size="12.70" font-weight="bold" fill="#f7b9b2" stroke="#f7b9b2" stroke-width="1.6" stroke-linejoin="round" opacity="0.7">-10.5%</text>
<text transform="translate(450.41,555.80) scale(0.9593,1)" font-size="12.70" font-weight="bold" fill="#cf2f29" stroke="#cf2f29" stroke-width="0.3">-10.5%</text>
</g>
<g clip-path="url(#cp10)">
<rect x="499.00" y="513.00" width="241.00" height="194.00" fill="url(#pg10)"/>
<rect x="499.50" y="513.50" width="240.00" height="193.00" fill="none" stroke="#c9c9c9" stroke-width="1"/>
<line x1="647.10" y1="552.70" x2="647.10" y2="684.60" stroke="#000" stroke-width="1" stroke-opacity="0.12"/>
<line x1="695.90" y1="552.70" x2="695.90" y2="684.60" stroke="#000" stroke-width="1" stroke-opacity="0.12"/>
<rect x="598.30" y="557.75" width="86.77" height="15.50" fill="#000"/>
<text transform="translate(691.64,569.70) scale(1.0043,1)" font-size="9.90" font-weight="bold" fill="#000" stroke="#000" stroke-width="0.2">$889</text>
<text transform="translate(510.41,568.70) scale(0.9116,1)" font-size="8.40" font-weight="bold" fill="#383838" stroke="#383838" stroke-width="0.15">AUG 2024  - JUL 2025</text>
<rect x="598.30" y="584.14" width="87.74" height="15.50" fill="#000"/>
<text transform="translate(692.62,596.09) scale(1.0043,1)" font-size="9.90" font-weight="bold" fill="#000" stroke="#000" stroke-width="0.2">$899</text>
<text transform="translate(510.24,595.09) scale(0.9116,1)" font-size="8.40" font-weight="bold" fill="#383838" stroke="#383838" stroke-width="0.15">AUG 2023  - JUL 2024</text>
<rect x="598.30" y="610.53" width="87.55" height="15.50" fill="#000"/>
<text transform="translate(692.42,622.48) scale(1.0043,1)" font-size="9.90" font-weight="bold" fill="#000" stroke="#000" stroke-width="0.2">$897</text>
<text transform="translate(510.47,621.48) scale(0.9116,1)" font-size="8.40" font-weight="bold" fill="#383838" stroke="#383838" stroke-width="0.15">AUG 2022  - JUL 2023</text>
<rect x="598.30" y="636.92" width="76.71" height="15.50" fill="#000"/>
<text transform="translate(681.59,648.87) scale(1.0043,1)" font-size="9.90" font-weight="bold" fill="#000" stroke="#000" stroke-width="0.2">$786</text>
<text transform="translate(510.49,647.87) scale(0.9116,1)" font-size="8.40" font-weight="bold" fill="#383838" stroke="#383838" stroke-width="0.15">AUG 2021  - JUL 2022</text>
<rect x="598.30" y="663.31" width="70.76" height="15.50" fill="#000"/>
<text transform="translate(675.64,675.26) scale(1.0043,1)" font-size="9.90" font-weight="bold" fill="#000" stroke="#000" stroke-width="0.2">$725</text>
<text transform="translate(510.41,674.26) scale(0.9116,1)" font-size="8.40" font-weight="bold" fill="#383838" stroke="#383838" stroke-width="0.15">AUG 2020  - JUL 2021</text>
<line x1="598.30" y1="552.70" x2="598.30" y2="684.60" stroke="#404040" stroke-width="1.4"/>
<text transform="translate(593.72,700.00) scale(1.0192,1)" font-size="8.30" font-weight="normal" fill="#3a3a3a" stroke="#3a3a3a" stroke-width="0.4">$0</text>
<text transform="translate(637.82,700.00) scale(1.0192,1)" font-size="8.30" font-weight="normal" fill="#3a3a3a" stroke="#3a3a3a" stroke-width="0.4">$500</text>
<text transform="translate(683.08,700.00) scale(1.0192,1)" font-size="8.30" font-weight="normal" fill="#3a3a3a" stroke="#3a3a3a" stroke-width="0.4">$1,000</text>
<text transform="translate(528.34,535.80) scale(0.9460,1)" font-size="12.80" font-weight="bold" fill="#000" stroke="#000" stroke-width="0.2">SF Homes Avg Price Per Sq. Ft.</text>
<text transform="translate(702.80,552.90) scale(0.9746,1)" font-size="12.70" font-weight="bold" fill="#f7b9b2" stroke="#f7b9b2" stroke-width="1.6" stroke-linejoin="round" opacity="0.7">-1.1%</text>
<text transform="translate(702.80,552.90) scale(0.9746,1)" font-size="12.70" font-weight="bold" fill="#cf2f29" stroke="#cf2f29" stroke-width="0.3">-1.1%</text>
</g>
<g clip-path="url(#cp11)">
<rect x="748.00" y="513.00" width="241.00" height="194.00" fill="url(#pg11)"/>
<rect x="748.50" y="513.50" width="240.00" height="193.00" fill="none" stroke="#c9c9c9" stroke-width="1"/>
<line x1="880.90" y1="552.70" x2="880.90" y2="684.60" stroke="#000" stroke-width="1" stroke-opacity="0.12"/>
<line x1="912.10" y1="552.70" x2="912.10" y2="684.60" stroke="#000" stroke-width="1" stroke-opacity="0.12"/>
<line x1="943.30" y1="552.70" x2="943.30" y2="684.60" stroke="#000" stroke-width="1" stroke-opacity="0.12"/>
<rect x="849.70" y="557.75" width="78.87" height="15.50" fill="#4f6fbe"/>
<text transform="translate(935.15,569.70) scale(1.0043,1)" font-size="9.90" font-weight="bold" fill="#000" stroke="#000" stroke-width="0.2">$1,264</text>
<text transform="translate(761.31,568.70) scale(0.9116,1)" font-size="8.40" font-weight="bold" fill="#383838" stroke="#383838" stroke-width="0.15">AUG 2024  - JUL 2025</text>
<rect x="849.70" y="584.14" width="81.99" height="15.50" fill="#4f6fbe"/>
<text transform="translate(938.27,596.09) scale(1.0043,1)" font-size="9.90" font-weight="bold" fill="#000" stroke="#000" stroke-width="0.2">$1,314</text>
<text transform="translate(761.14,595.09) scale(0.9116,1)" font-size="8.40" font-weight="bold" fill="#383838" stroke="#383838" stroke-width="0.15">AUG 2023  - JUL 2024</text>
<rect x="849.70" y="610.53" width="68.33" height="15.50" fill="#4f6fbe"/>
<text transform="translate(924.60,622.48) scale(1.0043,1)" font-size="9.90" font-weight="bold" fill="#000" stroke="#000" stroke-width="0.2">$1,095</text>
<text transform="translate(761.37,621.48) scale(0.9116,1)" font-size="8.40" font-weight="bold" fill="#383838" stroke="#383838" stroke-width="0.15">AUG 2022  - JUL 2023</text>
<rect x="849.70" y="636.92" width="70.45" height="15.50" fill="#4f6fbe"/>
<text transform="translate(926.73,648.87) scale(1.0043,1)" font-size="9.90" font-weight="bold" fill="#000" stroke="#000" stroke-width="0.2">$1,129</text>
<text transform="translate(761.39,647.87) scale(0.9116,1)" font-size="8.40" font-weight="bold" fill="#383838" stroke="#383838" stroke-width="0.15">AUG 2021  - JUL 2022</text>
<rect x="849.70" y="663.31" width="54.48" height="15.50" fill="#4f6fbe"/>
<text transform="translate(910.75,675.26) scale(1.0043,1)" font-size="9.90" font-weight="bold" fill="#000" stroke="#000" stroke-width="0.2">$873</text>
<text transform="translate(761.31,674.26) scale(0.9116,1)" font-size="8.40" font-weight="bold" fill="#383838" stroke="#383838" stroke-width="0.15">AUG 2020  - JUL 2021</text>
<line x1="849.70" y1="552.70" x2="849.70" y2="684.60" stroke="#404040" stroke-width="1.4"/>
<text transform="translate(845.12,700.00) scale(1.0192,1)" font-size="8.30" font-weight="normal" fill="#3a3a3a" stroke="#3a3a3a" stroke-width="0.4">$0</text>
<text transform="translate(871.62,700.00) scale(1.0192,1)" font-size="8.30" font-weight="normal" fill="#3a3a3a" stroke="#3a3a3a" stroke-width="0.4">$500</text>
<text transform="translate(899.28,700.00) scale(1.0192,1)" font-size="8.30" font-weight="normal" fill="#3a3a3a" stroke="#3a3a3a" stroke-width="0.4">$1,000</text>
<text transform="translate(930.48,700.00) scale(1.0192,1)" font-size="8.30" font-weight="normal" fill="#3a3a3a" stroke="#3a3a3a" stroke-width="0.4">$1,500</text>
<text transform="translate(776.14,535.80) scale(0.9493,1)" font-size="12.80" font-weight="bold" fill="#000" stroke="#000" stroke-width="0.2">SF Homes Avg. Price Per Sq. Ft.</text>
<text transform="translate(952.91,552.90) scale(0.9653,1)" font-size="12.70" font-weight="bold" fill="#f7b9b2" stroke="#f7b9b2" stroke-width="1.6" stroke-linejoin="round" opacity="0.7">-3.8%</text>
<text transform="translate(952.91,552.90) scale(0.9653,1)" font-size="12.70" font-weight="bold" fill="#cf2f29" stroke="#cf2f29" stroke-width="0.3">-3.8%</text>
</g>
<line x1="990.50" y1="0.00" x2="990.50" y2="710.00" stroke="#dcdcdc" stroke-width="1"/>
</svg>
</body></html>
